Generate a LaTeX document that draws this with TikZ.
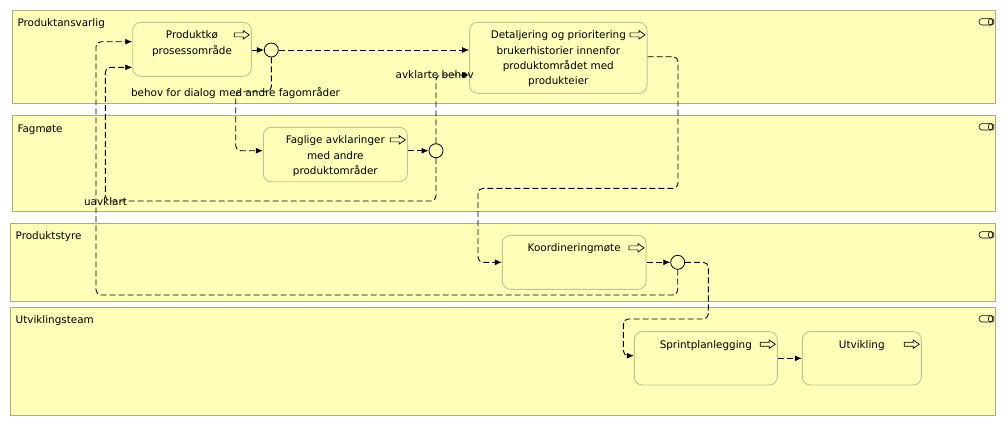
\documentclass[tikz,border=0pt]{standalone}
\usepackage{fontspec}
\setmainfont{DejaVu Sans}
\usetikzlibrary{arrows.meta}
\definecolor{lanefill}{RGB}{255,255,185}
\definecolor{laneline}{RGB}{176,174,124}
\definecolor{taskline}{RGB}{196,192,146}

\begin{document}
\begin{tikzpicture}[x=1pt,y=-1pt]
    \tikzstyle{every node}+=[inner sep=0pt, font=\fontsize{10.4}{15.3}\selectfont]
    \tikzstyle{lane}=[draw=laneline, fill=lanefill, line width=0.9pt]
    \tikzstyle{lanelabel}=[anchor=base west]
    \tikzstyle{laneicon}=[black, line width=0.6pt]
    \tikzstyle{task}=[draw=taskline, fill=lanefill, rounded corners=8pt, line width=0.9pt]
    \tikzstyle{tasktext}=[anchor=north, align=center]
    \tikzstyle{taskicon}=[black, line width=0.7pt, line join=miter]
    \tikzstyle{gate}=[draw=black, fill=lanefill, circle, minimum size=14pt, line width=0.8pt]
    \tikzstyle{flow}=[black, line width=0.9pt, dash pattern=on 6pt off 3pt, rounded corners=5pt, -{Latex[length=7pt,width=6pt]}]
    \tikzstyle{flowlabel}=[anchor=center]
    \useasboundingbox (0,0) rectangle (1006,426);

    % swimlanes
    \draw [lane] (12.3,10.3) rectangle (995.7,103);
    \draw [lane] (12.3,115.3) rectangle (995.7,211);
    \draw [lane] (10.3,223.3) rectangle (995.7,301);
    \draw [lane] (10.3,307.3) rectangle (995.7,415);
    \node [lanelabel] (lpa) at (17.3,26.7) {Produktansvarlig};
    \node [lanelabel] (lfm) at (17.3,132) {Fagmøte};
    \node [lanelabel] (lps) at (15.5,239.3) {Produktstyre};
    \node [lanelabel] (lut) at (15.5,323.3) {Utviklingsteam};
    \foreach \y in {10.3,115.3,223.3,307.3} {
        \draw [laneicon, rounded corners=3pt] (979,\y+8.3) rectangle (994,\y+14.7);
        \draw [laneicon] (990.5,\y+11.5) ellipse (2.2pt and 3.2pt);
    }

    % activities
    \node [task, minimum width=118.6pt, minimum height=54pt] (pk) at (192,49.3) {};
    \node [task, minimum width=177.5pt, minimum height=71pt] (da) at (558.3,57.8) {};
    \node [task, minimum width=144pt, minimum height=54.4pt] (fa) at (335.3,154.5) {};
    \node [task, minimum width=143.7pt, minimum height=54pt] (ko) at (574.2,262.3) {};
    \node [task, minimum width=143pt, minimum height=53.3pt] (sp) at (705.8,358.3) {};
    \node [task, minimum width=119pt, minimum height=53.3pt] (ut) at (861.8,358.3) {};
    \node [tasktext] (pkt) at ([yshift=-8.8pt]pk.north) {Produktkø\\prosessområde};
    \node [tasktext] (dat) at ([yshift=-8.8pt]da.north) {Detaljering og prioritering\\brukerhistorier innenfor\\produktområdet med\\produkteier};
    \node [tasktext] (fat) at ([yshift=-8.8pt]fa.north) {Faglige avklaringer\\med andre\\produktområder};
    \node [tasktext] (kot) at ([yshift=-8.8pt]ko.north) {Koordineringmøte};
    \node [tasktext] (spt) at ([yshift=-8.8pt]sp.north) {Sprintplanlegging};
    \node [tasktext] (utt) at ([yshift=-8.8pt]ut.north) {Utvikling};
    \foreach \t in {pk,da,fa,ko,sp,ut}
        \draw [taskicon] ([shift={(-2.5,13)}]\t.north east) -- ++(-6,-4.2) -- ++(0,2.2) -- ++(-9,0) -- ++(0,4) -- ++(9,0) -- ++(0,2.2) -- cycle;

    % gateways
    \node [gate] (c1) at (271.3,50) {};
    \node [gate] (c2) at (436,150.7) {};
    \node [gate] (c3) at (677.7,262.3) {};

    % flows
    \draw [flow] (pk.east |- c1) -- (c1.west);
    \draw [flow] (c1.east) -- (da.west |- c1);
    \draw [flow] (c1.south) |- (235.7,91.7) |- (fa.west |- c2);
    \draw [flow] (fa.east |- c2) -- (c2.west);
    \draw [flow] (c2.north) |- (da.west |- 0,75);
    \draw [flow] (c2.south) |- (105.3,201) |- (pk.west |- 0,67.3);
    \draw [flow] (da.east |- 0,56.7) -| (678,188.3) -- (478,188.3) |- (ko.west);
    \draw [flow] (ko.east) -- (c3.west);
    \draw [flow] (c3.south) |- (96,295) |- (pk.west |- 0,41.7);
    \draw [flow] (c3.east) -| (708.3,319) -- (623.3,319) |- (sp.west |- 0,355.7);
    \draw [flow] (sp.east) -- (ut.west);
    \node [flowlabel] (lb1) at (235.5,93.3) {behov for dialog med andre fagområder};
    \node [flowlabel] (lb2) at (434.7,75) {avklarte behov};
    \node [flowlabel] (lb3) at (105.5,201.3) {uavklart};
\end{tikzpicture}
\end{document}
